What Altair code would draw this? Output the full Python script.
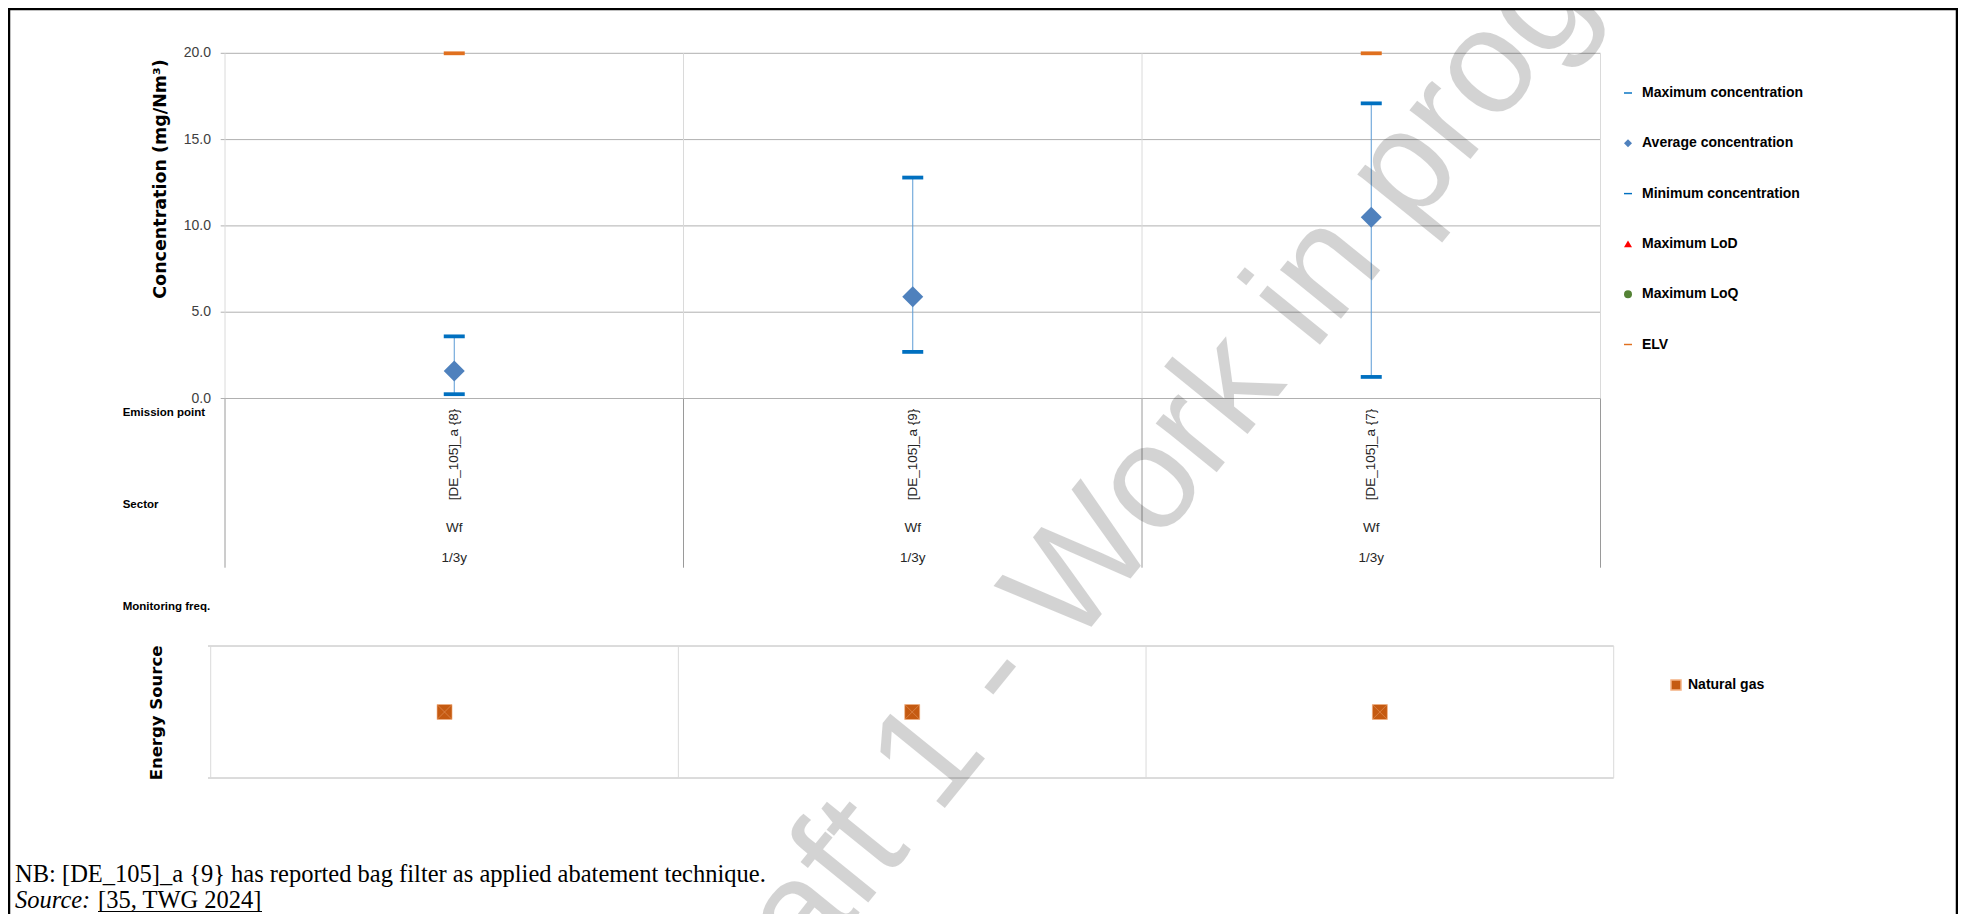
import altair as alt
import pandas as pd

# ---------------- data ----------------
emission_points = ["[DE_105]_a {8}", "[DE_105]_a {9}", "[DE_105]_a {7}"]
sectors = ["Wf", "Wf", "Wf"]
monitoring_freq = ["1/3y", "1/3y", "1/3y"]
max_conc = [3.6, 12.8, 17.1]
avg_conc = [1.6, 5.9, 10.5]
min_conc = [0.25, 2.7, 1.25]
elv = [20.0, None, 20.0]
energy_source = ["Natural gas", "Natural gas", "Natural gas"]
energy_types = ["Natural gas"]
y_ticks = [0, 5, 10, 15, 20]

series_names = ["Maximum concentration", "Average concentration", "Minimum concentration",
                "Maximum LoD", "Maximum LoQ", "ELV"]
series_colors = ["#0070C0", "#4F81BD", "#0070C0", "#FF0000", "#548235", "#E0701F"]
DASH = "M-1,-0.18H1V0.18H-1Z"
series_shapes = [DASH, "diamond", DASH, "triangle-up", "circle", DASH]

y_title = "Concentration (mg/Nm³)"
energy_title = "Energy Source"
row_labels = ["Emission point", "Sector", "Monitoring freq."]
note_text = "NB: [DE_105]_a {9} has reported bag filter as applied abatement technique."
source_label = "Source:"
source_ref = "[35, TWG 2024]"
watermark = "Draft 1 - Work in progress"

SANS = "Liberation Sans"
SERIF = "Liberation Serif"

# ---------------- tables ----------------
cats_df = pd.DataFrame({
    "cat": emission_points, "sector": sectors, "freq": monitoring_freq,
    "max": max_conc, "avg": avg_conc, "min": min_conc, "energy": energy_source,
})
rows = []
for i, c in enumerate(emission_points):
    rows.append({"cat": c, "series": "Maximum concentration", "value": max_conc[i]})
    rows.append({"cat": c, "series": "Average concentration", "value": avg_conc[i]})
    rows.append({"cat": c, "series": "Minimum concentration", "value": min_conc[i]})
    if elv[i] is not None:
        rows.append({"cat": c, "series": "ELV", "value": elv[i]})
long_df = pd.DataFrame(rows)
ticks_df = pd.DataFrame({"v": y_ticks})
energy_df = pd.DataFrame({"energy": energy_types})
one = pd.DataFrame({"k": [0]})
last_cat = emission_points[-1]

# ---------------- scales ----------------
xs = alt.Scale(domain=emission_points, range=[217, 1592.5], paddingInner=0, paddingOuter=0)
ys = alt.Scale(domain=[0, 20], range=[390.5, 45.3], nice=False, zero=False)
xs2 = alt.Scale(domain=emission_points, range=[202.7, 1605.7], paddingInner=0, paddingOuter=0)
ys2 = alt.Scale(domain=energy_types, range=[638, 770], paddingInner=0, paddingOuter=0)

X = alt.X("cat:N", scale=xs, axis=None)
X2 = alt.X("cat:N", scale=xs2, axis=None)

# ---------------- top panel ----------------
grid = alt.Chart(ticks_df).mark_rule(color="#b0b0b0", strokeWidth=1).encode(
    y=alt.Y("v:Q", scale=ys, axis=None), x=alt.value(212.7), x2=alt.value(1592.5))
tick_labels = alt.Chart(ticks_df).transform_calculate(
    lbl="format(datum.v, '.1f')").mark_text(
    align="right", baseline="middle", font=SANS, fontSize=14, color="#404040").encode(
    y=alt.Y("v:Q", scale=ys, axis=None), x=alt.value(203), text="lbl:N")

div_plot = alt.Chart(cats_df).mark_rule(color="#dadada", strokeWidth=1).encode(
    x=alt.X("cat:N", scale=xs, axis=None, bandPosition=0),
    y=alt.value(45.3), y2=alt.value(390.5))
div_plot_end = alt.Chart(cats_df).transform_filter(alt.datum.cat == last_cat).mark_rule(
    color="#dadada", strokeWidth=1).encode(
    x=alt.X("cat:N", scale=xs, axis=None, bandPosition=1),
    y=alt.value(45.3), y2=alt.value(390.5))
div_lab = alt.Chart(cats_df).mark_rule(color="#9a9a9a", strokeWidth=1).encode(
    x=alt.X("cat:N", scale=xs, axis=None, bandPosition=0),
    y=alt.value(390.5), y2=alt.value(559.7))
div_lab_end = alt.Chart(cats_df).transform_filter(alt.datum.cat == last_cat).mark_rule(
    color="#9a9a9a", strokeWidth=1).encode(
    x=alt.X("cat:N", scale=xs, axis=None, bandPosition=1),
    y=alt.value(390.5), y2=alt.value(559.7))

whisker = alt.Chart(cats_df).mark_rule(color="#5B9BD5", strokeWidth=1).encode(
    x=X, y=alt.Y("min:Q", scale=ys, axis=None), y2="max:Q")

leg1 = alt.Legend(title=None, orient="none", legendX=1613, legendY=78, symbolSize=64,
                  labelFont=SANS, labelFontWeight="bold", labelFontSize=14, labelColor="black",
                  rowPadding=36.3, labelOffset=7, labelLimit=400, symbolStrokeWidth=0)
points = alt.Chart(long_df).mark_point(filled=True, opacity=1, size=441, strokeWidth=0).encode(
    x=X, y=alt.Y("value:Q", scale=ys, axis=None),
    color=alt.Color("series:N", scale=alt.Scale(domain=series_names, range=series_colors), legend=leg1),
    shape=alt.Shape("series:N", scale=alt.Scale(domain=series_names, range=series_shapes), legend=leg1))

cat_labels = alt.Chart(cats_df).mark_text(angle=270, align="center", baseline="middle",
                                          font=SANS, fontSize=13.5, color="#262626").encode(
    x=X, y=alt.value(446.5), text="cat:N")
sector_labels = alt.Chart(cats_df).mark_text(align="center", baseline="middle",
                                             font=SANS, fontSize=13.5, color="#262626").encode(
    x=X, y=alt.value(520), text="sector:N")
freq_labels = alt.Chart(cats_df).mark_text(align="center", baseline="middle",
                                           font=SANS, fontSize=13.5, color="#262626").encode(
    x=X, y=alt.value(550), text="freq:N")

top = alt.layer(grid, tick_labels, div_plot, div_plot_end, div_lab, div_lab_end,
                whisker, points, cat_labels, sector_labels, freq_labels)

# ---------------- energy panel ----------------
e_top = alt.Chart(energy_df).mark_rule(color="#b8b8b8", strokeWidth=1).encode(
    y=alt.Y("energy:N", scale=ys2, axis=None, bandPosition=0), x=alt.value(200), x2=alt.value(1605.7))
e_bot = alt.Chart(energy_df).mark_rule(color="#b8b8b8", strokeWidth=1).encode(
    y=alt.Y("energy:N", scale=ys2, axis=None, bandPosition=1), x=alt.value(200), x2=alt.value(1605.7))
e_div = alt.Chart(cats_df).mark_rule(color="#dadada", strokeWidth=1).encode(
    x=alt.X("cat:N", scale=xs2, axis=None, bandPosition=0), y=alt.value(638), y2=alt.value(770))
e_div_end = alt.Chart(cats_df).transform_filter(alt.datum.cat == last_cat).mark_rule(
    color="#dadada", strokeWidth=1).encode(
    x=alt.X("cat:N", scale=xs2, axis=None, bandPosition=1), y=alt.value(638), y2=alt.value(770))
leg2 = alt.Legend(title=None, orient="none", legendX=1661, legendY=670, symbolSize=100,
                  symbolType="square", labelFont=SANS, labelFontWeight="bold", labelFontSize=14,
                  labelColor="black", labelOffset=5, labelLimit=400)
e_pts = alt.Chart(cats_df).mark_point(shape="square", filled=True, opacity=1, size=225,
                                      stroke="#F4B183", strokeWidth=0.6).encode(
    x=X2, y=alt.Y("energy:N", scale=ys2, axis=None),
    color=alt.Color("energy:N", scale=alt.Scale(domain=energy_types, range=["#C55A11"]), legend=leg2))
e_x = alt.Chart(cats_df).mark_point(shape="M-1,-1L1,1M1,-1L-1,1", filled=False, opacity=0.6,
                                    size=200, color="#F4B183", strokeWidth=0.7).encode(
    x=X2, y=alt.Y("energy:N", scale=ys2, axis=None))
bottom = alt.layer(e_top, e_bot, e_div, e_div_end, e_pts, e_x)

# ---------------- free texts ----------------
def txt(s, x, y, **kw):
    return alt.Chart(one).mark_text(**kw).encode(x=alt.value(x), y=alt.value(y), text=alt.value(s))

title_y = txt(y_title, 153, 171, angle=270, align="center", baseline="middle",
              font="DejaVu Sans", fontWeight="bold", fontSize=17.5, color="black")
title_e = txt(energy_title, 149, 705, angle=270, align="center", baseline="middle",
              font="DejaVu Sans", fontWeight="bold", fontSize=16.5, color="black")
rl = [txt(s, 114.7, yy, align="left", baseline="middle", font=SANS, fontWeight="bold",
          fontSize=11.5, color="black")
      for s, yy in zip(row_labels, [405, 497, 598.7])]
note = txt(note_text, 7, 874, align="left", baseline="alphabetic", font=SERIF, fontSize=24.5, color="black")
src1 = txt(source_label, 7, 900, align="left", baseline="alphabetic", font=SERIF, fontSize=24.5,
           fontStyle="italic", color="black")
src2 = txt(source_ref, 90, 900, align="left", baseline="alphabetic", font=SERIF, fontSize=24.5, color="black")
underline = alt.Chart(one).mark_rule(color="black", strokeWidth=1.2).encode(
    x=alt.value(90), x2=alt.value(254), y=alt.value(903.5))

border_top = alt.Chart(one).mark_rule(color="black", strokeWidth=2.5).encode(
    x=alt.value(0), x2=alt.value(1949), y=alt.value(1))
border_l = alt.Chart(one).mark_rule(color="black", strokeWidth=2.5).encode(
    x=alt.value(1), y=alt.value(0), y2=alt.value(906))
border_r = alt.Chart(one).mark_rule(color="black", strokeWidth=2.5).encode(
    x=alt.value(1949), y=alt.value(0), y2=alt.value(906))

wm = txt(watermark, 1200, 405, angle=309, align="center", baseline="middle", font=SANS,
         fontSize=148, color="black", opacity=0.17)

chart = alt.layer(
    top, bottom, title_y, title_e, *rl, note, src1, src2, underline,
    border_top, border_l, border_r, wm
).resolve_scale(
    x="independent", y="independent", color="independent", shape="independent"
).properties(
    width=1950, height=906, autosize=alt.AutoSizeParams(type="none"), padding=0,
    background="white"
).configure_view(stroke=None)

chart.save("out.html", embed_options={"renderer": "svg", "actions": False})
